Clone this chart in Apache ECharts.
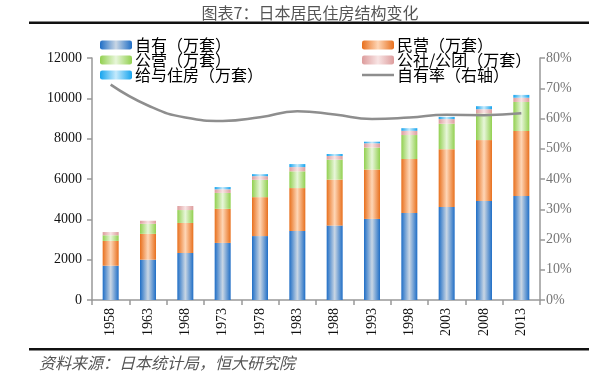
<!DOCTYPE html>
<html><head><meta charset="utf-8">
<script src="https://cdn.jsdelivr.net/npm/echarts@6/dist/echarts.min.js"></script>
<style>html,body{margin:0;padding:0;background:#fff}#c{width:589px;height:381px}</style>
</head><body><div id="c"></div>
<script>
const years = ['1958','1963','1968','1973','1978','1983','1988','1993','1998','2003','2008','2013'];
const ownHouse = [1700, 2000, 2330, 2830, 3170, 3420, 3690, 4020, 4310, 4610, 4910, 5160];
const privateRent = [1230, 1280, 1490, 1690, 1930, 2130, 2280, 2450, 2680, 2870, 3020, 3220];
const publicRent = [280, 500, 640, 790, 860, 830, 990, 1090, 1190, 1260, 1320, 1440];
const corpRent = [160, 150, 200, 180, 180, 210, 180, 210, 210, 230, 210, 210];
const employerHouse = [0, 0, 0, 110, 100, 150, 100, 80, 130, 110, 150, 140];
const ownRate = [71.2, 64.3, 60.3, 59.2, 60.4, 62.4, 61.3, 59.8, 60.3, 61.2, 61.1, 61.7];
const leftTicks = [0, 2000, 4000, 6000, 8000, 10000, 12000];
const rightTicks = [0, 10, 20, 30, 40, 50, 60, 70, 80];

function grad(edge, center) {
  return {type:'linear', x:0, y:0, x2:1, y2:0, colorStops:[
    {offset:0, color:edge},{offset:0.5, color:center},{offset:1, color:edge}]};
}
const serif = '"Liberation Serif","DejaVu Serif",serif';
const cjk = '"Noto Sans CJK SC","Noto Sans",sans-serif';

function barSeries(name, data, edge, center) {
  return {name, type:'bar', stack:'s', data, barWidth:16,
    itemStyle:{color:grad(edge, center)}};
}
const legText = {fontFamily:cjk, fontSize:16, lineHeight:15, color:'#000', padding:[0,0,0,-2]};

const chart = echarts.init(document.getElementById('c'), null, {renderer:'canvas'});
chart.setOption({
  animation:false,
  backgroundColor:'#fff',
  graphic:[
    {type:'text', x:310, y:13, style:{text:'图表7：日本居民住房结构变化',
      font:'16px "Noto Sans CJK SC"', fill:'#555', align:'center', verticalAlign:'middle'}},
    {type:'rect', shape:{x:29, y:21.5, width:560, height:2.5}, style:{fill:'#111'}},
    {type:'rect', shape:{x:29, y:348, width:560, height:2.5}, style:{fill:'#111'}},
    {type:'text', x:39, y:363, style:{text:'资料来源：日本统计局，恒大研究院',
      font:'italic 16px "Noto Sans CJK SC"', fill:'#555', verticalAlign:'middle'}}
  ],
  legend:[
    {orient:'vertical', left:95, top:32, itemWidth:32, itemHeight:9, itemGap:-1,
     data:['自有（万套）','公营（万套）','给与住房（万套）'], textStyle:legText},
    {orient:'vertical', left:357, top:32, itemWidth:32, itemHeight:9, itemGap:-1,
     data:['民营（万套）','公社/公团（万套）',
           {name:'自有率（右轴）', icon:'path://M0,0H128V10H0Z'}],
     textStyle:legText}
  ],
  grid:{left:92, right:49, top:58, bottom:81},
  xAxis:{type:'category', data:years,
    axisLine:{lineStyle:{color:'#999', width:1.5}},
    axisTick:{show:true, length:5, lineStyle:{color:'#999', width:1.5}},
    axisLabel:{rotate:90, fontFamily:serif, fontSize:14, color:'#111', margin:8}},
  yAxis:[
    {type:'value', min:leftTicks[0], max:leftTicks[leftTicks.length-1], interval:2000,
     splitLine:{show:false},
     axisLine:{show:true, lineStyle:{color:'#999', width:1.5}},
     axisTick:{show:true, length:5, lineStyle:{color:'#999', width:1.5}},
     axisLabel:{fontFamily:serif, fontSize:14, color:'#111', margin:10, formatter:v => String(v)}},
    {type:'value', min:rightTicks[0], max:rightTicks[rightTicks.length-1], interval:10,
     splitLine:{show:false},
     axisLine:{show:true, lineStyle:{color:'#999', width:1.5}},
     axisTick:{show:true, length:5, lineStyle:{color:'#999', width:1.5}},
     axisLabel:{fontFamily:serif, fontSize:14, color:'#777', margin:6, formatter:v => v + '%'}}
  ],
  series:[
    barSeries('自有（万套）', ownHouse, '#1f6ec6', '#c9d6e4'),
    barSeries('民营（万套）', privateRent, '#e8701e', '#fed6b6'),
    barSeries('公营（万套）', publicRent, '#92d050', '#e8f6da'),
    barSeries('公社/公团（万套）', corpRent, '#dd9c9c', '#f8e4e4'),
    barSeries('给与住房（万套）', employerHouse, '#16a4ee', '#c4eafc'),
    {name:'自有率（右轴）', type:'line', yAxisIndex:1, data:ownRate, smooth:true,
     symbol:'none', showSymbol:false,
     lineStyle:{color:'#8e8e8e', width:2.5}, itemStyle:{color:'#8e8e8e'}}
  ]
});
</script></body></html>
